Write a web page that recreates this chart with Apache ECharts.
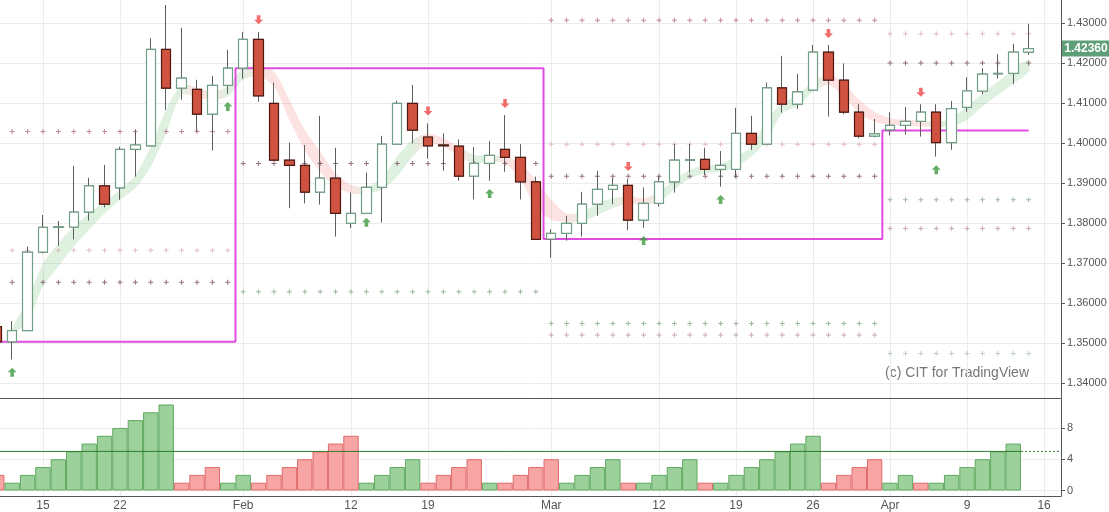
<!DOCTYPE html>
<html><head><meta charset="utf-8">
<script src="https://cdn.jsdelivr.net/npm/echarts@6/dist/echarts.min.js"></script>
<style>html,body{margin:0;padding:0;background:#fff}#c{width:1109px;height:512px}</style>
</head><body><div id="c"></div>
<script>
// ---- trading days (categories) ----
const dates = [];
for (let t = Date.UTC(2018, 0, 10); t <= Date.UTC(2018, 3, 13); t += 86400000) {
  const d = new Date(t); const wd = d.getUTCDay();
  if (wd !== 0 && wd !== 6) dates.push(d.toISOString().slice(0, 10));
}
// ---- OHLC ----
const openP  = [1.3541,1.3503,1.3531,1.3727,1.3789,1.3790,1.3827,1.3893,1.3888,1.3984,1.3993,1.4234,1.4137,1.4134,1.4072,1.4144,1.4187,1.4259,1.4099,1.3957,1.3944,1.3877,1.3912,1.3799,1.3824,1.3889,1.3997,1.4099,1.4015,1.3995,1.3992,1.3917,1.3949,1.3984,1.3964,1.3903,1.3760,1.3774,1.3799,1.3847,1.3884,1.3894,1.3807,1.3849,1.3903,1.3957,1.3959,1.3934,1.3934,1.4024,1.3997,1.4138,1.4097,1.4132,1.4227,1.4157,1.4077,1.4017,1.4033,1.4044,1.4054,1.4077,1.4001,1.4089,1.4130,1.4173,1.4174,1.4227];
const highP  = [1.3556,1.3555,1.3741,1.3820,1.3805,1.3943,1.3913,1.3945,1.3991,1.4033,1.4262,1.4345,1.4288,1.4158,1.4168,1.4233,1.4278,1.4278,1.4151,1.4001,1.3995,1.4068,1.3988,1.3876,1.3926,1.4018,1.4106,1.4145,1.4049,1.4024,1.4009,1.3990,1.4005,1.4070,1.3997,1.3916,1.3784,1.3818,1.3878,1.3930,1.3913,1.3910,1.3889,1.3918,1.3997,1.3997,1.3988,1.3980,1.4088,1.4068,1.4151,1.4218,1.4173,1.4245,1.4245,1.4199,1.4097,1.4060,1.4077,1.4090,1.4097,1.4097,1.4105,1.4164,1.4187,1.4222,1.4248,1.4298];
const lowP   = [1.3497,1.3459,1.3530,1.3724,1.3743,1.3759,1.3806,1.3839,1.3858,1.3916,1.3993,1.4083,1.4108,1.4028,1.3981,1.4123,1.4161,1.4103,1.3957,1.3837,1.3849,1.3846,1.3766,1.3787,1.3824,1.3801,1.3997,1.3999,1.3961,1.3931,1.3906,1.3859,1.3906,1.3928,1.3859,1.3759,1.3713,1.3756,1.3766,1.3818,1.3847,1.3782,1.3788,1.3841,1.3876,1.3926,1.3920,1.3891,1.3913,1.3983,1.3997,1.4076,1.4085,1.4132,1.4066,1.4072,1.4012,1.4014,1.4019,1.4021,1.4016,1.3966,1.3983,1.4078,1.4122,1.4161,1.4147,1.4220];
const closeP = [1.3503,1.3531,1.3727,1.3789,1.3790,1.3827,1.3893,1.3847,1.3984,1.3995,1.4234,1.4137,1.4162,1.4072,1.4144,1.4187,1.4259,1.4118,1.3957,1.3944,1.3877,1.3912,1.3824,1.3824,1.3889,1.3997,1.4099,1.4032,1.3993,1.3993,1.3917,1.3949,1.3969,1.3964,1.3903,1.3759,1.3774,1.3799,1.3847,1.3884,1.3894,1.3807,1.3849,1.3903,1.3957,1.3958,1.3934,1.3944,1.4024,1.3997,1.4138,1.4097,1.4128,1.4227,1.4157,1.4077,1.4017,1.4023,1.4044,1.4054,1.4077,1.4001,1.4086,1.4130,1.4172,1.4174,1.4227,1.4236];
// ---- trend ribbon (index 0 has none) ----
const bandUpper = [null,1.3537,1.3608,1.3699,1.3749,1.3791,1.3824,1.3853,1.3883,1.3920,1.3991,1.4083,1.4145,1.4139,1.4128,1.4143,1.4187,1.4191,1.4178,1.4108,1.4033,1.3978,1.3924,1.3895,1.3891,1.3912,1.3966,1.4008,1.4024,1.4012,1.3991,1.3970,1.3970,1.3966,1.3949,1.3908,1.3858,1.3824,1.3828,1.3849,1.3862,1.3866,1.3862,1.3878,1.3908,1.3933,1.3943,1.3948,1.3966,1.3991,1.4058,1.4099,1.4120,1.4153,1.4170,1.4149,1.4108,1.4078,1.4062,1.4058,1.4056,1.4053,1.4062,1.4091,1.4124,1.4153,1.4183,1.4208];
const bandLower = [null,1.3524,1.3553,1.3641,1.3691,1.3741,1.3783,1.3824,1.3858,1.3887,1.3941,1.4024,1.4120,1.4114,1.4108,1.4116,1.4158,1.4166,1.4141,1.4058,1.3983,1.3928,1.3891,1.3874,1.3874,1.3883,1.3916,1.3966,1.3999,1.3991,1.3966,1.3949,1.3953,1.3949,1.3908,1.3841,1.3808,1.3803,1.3803,1.3820,1.3837,1.3849,1.3845,1.3853,1.3883,1.3912,1.3924,1.3928,1.3941,1.3966,1.4008,1.4074,1.4091,1.4128,1.4145,1.4116,1.4074,1.4053,1.4045,1.4043,1.4041,1.4041,1.4041,1.4058,1.4091,1.4120,1.4149,1.4178];
const bandRising = [0,1,1,1,1,1,1,1,1,1,1,1,1,0,0,1,1,0,0,0,0,0,0,0,1,1,1,1,0,0,0,1,1,0,0,0,0,0,1,1,1,0,0,1,1,1,1,1,1,1,1,1,1,1,0,0,0,0,0,0,0,1,1,1,1,1,1,1];
// ---- monthly reference level (step line) ----
const monthLevel = [1.3503, 1.4187, 1.3760, 1.4031];
// ---- monthly pivot rows ----
const monthPivots = [
  [1.4029, 1.3732, 1.3652],
  [1.3949, 1.3628],
  [1.4307, 1.3997, 1.3917, 1.3549, 1.3520],
  [1.4273, 1.4200, 1.3858, 1.3786, 1.3474]
];
const monthPivotKinds = [
  ['a', 'b', 'c'],
  ['c', 'd'],
  ['a', 'b', 'c', 'd', 'e'],
  ['b', 'c', 'd', 'e', 'f']
];
// ---- signal arrows [index, price] ----
const sellSignals = [[17,1.4308],[28,1.4080],[33,1.4099],[41,1.3941],[54,1.4274],[60,1.4127]];
const buySignals  = [[1,1.3427],[15,1.4091],[24,1.3802],[32,1.3874],[42,1.3756],[47,1.3859],[61,1.3933]];
// ---- count histogram (+ rising run, - falling run) ----
const counts = [-2,1,2,3,4,5,6,7,8,9,10,11,-1,-2,-3,1,2,-1,-2,-3,-4,-5,-6,-7,1,2,3,4,-1,-2,-3,-4,1,-1,-2,-3,-4,1,2,3,4,-1,1,2,3,4,-1,1,2,3,4,5,6,7,-1,-2,-3,-4,1,2,-1,1,2,3,4,5,6,null];
const countThreshold = 5;
// ---- axis ticks ----
const xTickIndex = [3, 8, 16, 23, 28, 36, 43, 48, 53, 58, 63, 68];
const xTickText  = ['15', '22', 'Feb', '12', '19', 'Mar', '12', '19', '26', 'Apr', '9', '16'];
const yTicks = [1.34, 1.35, 1.36, 1.37, 1.38, 1.39, 1.40, 1.41, 1.42, 1.43];
const countTicks = [0, 4, 8];

// ---------- build ----------
const N = dates.length;
const xMin = 0.21, xMax = 69.1;
const monthStarts = [];
dates.forEach((d, i) => { if (i === 0 || d.slice(0, 7) !== dates[i - 1].slice(0, 7)) monthStarts.push(i); });

const candleFull = dates.map((d, i) => [i, openP[i], closeP[i], lowP[i], highP[i]]);
const candleBody = dates.map((d, i) => [i, openP[i], closeP[i], Math.min(openP[i], closeP[i]), Math.max(openP[i], closeP[i])]);

const stepPts = [];
monthStarts.forEach((s, m) => {
  const a = m === 0 ? s - 1 : s - 0.5;
  const b = m < monthStarts.length - 1 ? monthStarts[m + 1] - 0.5 : N - 1;
  stepPts.push([a, monthLevel[m]], [b, monthLevel[m]]);
});

const kindColor = { a: '#b86a88', b: '#dcaab5', c: '#7b4d5e', d: '#86a786', e: '#b9959f', f: '#acc6ac' };
const pivotData = {};
Object.keys(kindColor).forEach(k => pivotData[k] = []);
monthStarts.forEach((s, m) => {
  const e = m < monthStarts.length - 1 ? monthStarts[m + 1] - 1 : N - 1;
  monthPivots[m].forEach((lv, k) => {
    for (let i = s; i <= e; i++) pivotData[monthPivotKinds[m][k]].push([i, lv]);
  });
});

const bandStart = bandUpper.findIndex(v => v != null);
const bandEnd = N - 1;
const G = 'rgba(76,175,80,0.18)', R = 'rgba(239,83,80,0.17)';

const countData = [];
counts.forEach((v, i) => {
  if (v == null) return;
  const up = v > 0;
  countData.push({ value: [i, Math.abs(v)], itemStyle: { color: up ? '#9dd19b' : '#f8a5a5', borderColor: up ? '#5fa85f' : '#e06a6a' } });
});
const lastCount = counts.reduce((a, v, i) => v != null ? i : a, 0);
const lastClose = closeP[N - 1];

const plus = 'path://M2,0H3V2H5V3H3V5H2V3H0V2H2Z';
const downArrow = 'path://M3,0H7V5H10L5,10L0,5H3Z';
const upArrow = 'path://M5,0L10,5H7V10H3V5H0L5,0Z';

const chart = echarts.init(document.getElementById('c'));
const font = 'Liberation Sans, Arial, sans-serif';
const option = {
  animation: false,
  backgroundColor: '#fff',
  textStyle: { fontFamily: font },
  grid: [
    { left: 0, right: 48, top: 0, height: 398, outerBoundsMode: 'none', containLabel: false },
    { left: 0, right: 48, top: 399, height: 97, outerBoundsMode: 'none', containLabel: false }
  ],
  xAxis: [
    { type: 'value', gridIndex: 0, min: xMin, max: xMax,
      axisLine: { show: true, onZero: false, lineStyle: { color: '#555' } },
      axisTick: { show: false, customValues: xTickIndex },
      axisLabel: { show: false, customValues: xTickIndex },
      splitLine: { show: true, lineStyle: { color: '#ececec' } } },
    { type: 'value', gridIndex: 1, min: xMin, max: xMax,
      axisLine: { show: true, onZero: false, lineStyle: { color: '#555' } },
      axisTick: { show: false, customValues: xTickIndex },
      axisLabel: { customValues: xTickIndex, color: '#555', fontSize: 12, margin: 4,
        formatter: v => { const k = xTickIndex.indexOf(Math.round(v)); return k >= 0 ? xTickText[k] : ''; } },
      splitLine: { show: true, lineStyle: { color: '#ececec' } } }
  ],
  yAxis: [
    { type: 'value', gridIndex: 0, position: 'right', min: 1.33625, max: 1.43575,
      axisLine: { show: true, lineStyle: { color: '#555' } },
      axisTick: { show: true, length: 4, lineStyle: { color: '#555' }, customValues: yTicks },
      axisLabel: { customValues: yTicks, formatter: v => v.toFixed(5), color: '#555', fontSize: 11, margin: 6 },
      splitLine: { show: true, lineStyle: { color: '#ececec' } } },
    { type: 'value', gridIndex: 1, position: 'right', min: -0.7, max: 11.7,
      axisLine: { show: true, lineStyle: { color: '#555' } },
      axisTick: { show: true, length: 4, lineStyle: { color: '#555' }, customValues: countTicks },
      axisLabel: { customValues: countTicks, color: '#555', fontSize: 11, margin: 6 },
      splitLine: { show: true, lineStyle: { color: '#ececec' } } }
  ],
  graphic: [
    { type: 'text', right: 80, top: 366, silent: true,
      style: { text: '(c) CIT for TradingView', fill: '#777', font: '14px ' + font } }
  ],
  series: [
    { type: 'custom', xAxisIndex: 0, yAxisIndex: 0, silent: true, clip: true, z: 1,
      data: [[bandStart, bandUpper[bandStart]]],
      renderItem: function (params, api) {
        const up = [], lo = [], stops = [];
        for (let i = bandStart; i <= bandEnd; i++) {
          up.push(api.coord([i, bandUpper[i]]));
          lo.push(api.coord([i, bandLower[i]]));
          stops.push({ offset: (i - bandStart) / (bandEnd - bandStart), color: bandRising[i] ? G : R });
        }
        return { type: 'polygon', shape: { points: up.concat(lo.reverse()), smooth: 0.3 },
          style: { fill: new echarts.graphic.LinearGradient(0, 0, 1, 0, stops) } };
      } },
    ...Object.keys(kindColor).map(k => ({
      type: 'scatter', xAxisIndex: 0, yAxisIndex: 0, silent: true, z: 2,
      symbol: plus, symbolSize: 5, data: pivotData[k], itemStyle: { color: kindColor[k] }
    })),
    { type: 'line', xAxisIndex: 0, yAxisIndex: 0, silent: true, z: 3, data: stepPts,
      symbol: 'none', lineStyle: { color: '#e04ce0', width: 2 } },
    { type: 'candlestick', xAxisIndex: 0, yAxisIndex: 0, z: 4, barWidth: 10, data: candleFull,
      itemStyle: { color: '#ffffff', color0: '#cf5340', borderColor: '#5e5e5e', borderColor0: '#5e5e5e', borderWidth: 1 } },
    { type: 'candlestick', xAxisIndex: 0, yAxisIndex: 0, z: 5, barWidth: 10, data: candleBody,
      itemStyle: { color: '#ffffff', color0: '#cf5340', borderColor: '#72a087', borderColor0: '#4f1a12', borderWidth: 1.2 } },
    { type: 'scatter', xAxisIndex: 0, yAxisIndex: 0, z: 6, silent: true, data: sellSignals,
      symbol: downArrow, symbolSize: [9, 9], itemStyle: { color: '#f04848' } },
    { type: 'scatter', xAxisIndex: 0, yAxisIndex: 0, z: 6, silent: true, data: buySignals,
      symbol: upArrow, symbolSize: [9, 9], itemStyle: { color: '#3f9a40' } },
    { type: 'custom', xAxisIndex: 0, yAxisIndex: 0, silent: true, clip: false, z: 20,
      data: [[N - 1, lastClose]],
      renderItem: function (params, api) {
        const p = api.coord([xMax, lastClose]);
        return { type: 'group', children: [
          { type: 'rect', shape: { x: p[0] + 1, y: p[1] - 8, width: 48, height: 16 }, style: { fill: '#5f9f78' } },
          { type: 'text', style: { x: p[0] + 25, y: p[1], text: lastClose.toFixed(5), fill: '#fff',
            font: 'bold 12px ' + font, align: 'center', verticalAlign: 'middle' } }
        ] };
      } },
    { type: 'bar', xAxisIndex: 1, yAxisIndex: 1, barWidth: 15.4, data: countData, itemStyle: { borderWidth: 1 } },
    { type: 'line', xAxisIndex: 1, yAxisIndex: 1, silent: true, symbol: 'none', z: 5,
      data: [[xMin - 1, countThreshold], [lastCount + 0.5, countThreshold]],
      lineStyle: { color: '#2f7d2f', width: 1 } },
    { type: 'line', xAxisIndex: 1, yAxisIndex: 1, silent: true, symbol: 'none', z: 5,
      data: [[lastCount + 0.5, countThreshold], [xMax, countThreshold]],
      lineStyle: { color: '#2f7d2f', width: 1, type: [2, 2] } }
  ]
};
chart.setOption(option);
</script></body></html>
